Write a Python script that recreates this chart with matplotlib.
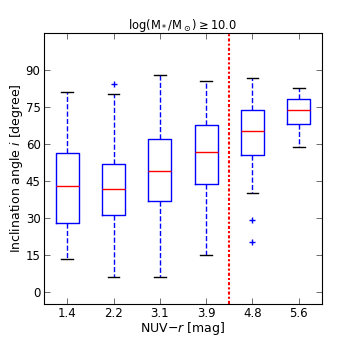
import matplotlib
matplotlib.use("Agg")
import matplotlib.pyplot as plt

categories = ["1.4", "2.2", "3.1", "3.9", "4.8", "5.6"]
whislo = [13.1, 6.0, 6.0, 14.7, 39.9, 58.8]
q1 = [27.8, 31.3, 36.7, 43.7, 55.6, 67.9]
med = [43.0, 41.5, 49.1, 56.9, 65.2, 73.9]
q3 = [56.2, 51.7, 62.0, 67.6, 73.6, 78.2]
whishi = [81.2, 80.3, 87.8, 85.6, 86.8, 82.7]
fliers = [[], [84.5], [], [], [29.0, 20.0], []]
yticks = [0, 15, 30, 45, 60, 75, 90]
divider = 4.5

plt.rcParams['mathtext.default'] = 'regular'

fig = plt.figure(figsize=(3.58, 3.38), dpi=100)
ax = fig.add_axes([44/358, 1 - 304/338, 278/358, 271/338])

stats = []
for i in range(len(categories)):
    stats.append(dict(med=med[i], q1=q1[i], q3=q3[i], whislo=whislo[i],
                      whishi=whishi[i], fliers=fliers[i], label=categories[i]))

ax.bxp(stats, positions=range(1, len(categories) + 1), widths=0.5,
       boxprops=dict(color='blue', linewidth=1.0),
       whiskerprops=dict(color='blue', linestyle='--', linewidth=1.0),
       capprops=dict(color='black', linewidth=1.0),
       medianprops=dict(color='red', linewidth=1.0),
       flierprops=dict(marker='+', markeredgecolor='blue', markersize=5,
                       linestyle='none'))

ax.axvline(divider, color='red', linestyle=(0, (1.5, 1, 1, 1)), linewidth=1.5)

ax.set_xlim(0.5, 6.5)
ax.set_ylim(-5, 105)
ax.set_yticks(yticks)
ax.tick_params(direction='in', top=True, right=True, length=4, width=0.6,
               color='#555555', labelsize=8.5)
ax.tick_params(axis='x', pad=2.5)
ax.tick_params(axis='y', pad=2.5)
for s in ax.spines.values():
    s.set_linewidth(0.8)
ax.set_title(r'log(M$_*$/M$_\odot$)$\geq$10.0', fontsize=8.3, pad=3)
ax.set_ylabel(r'Inclination angle $\mathit{i}$ [degree]', fontsize=9)
ax.set_xlabel(r'NUV$-\mathit{r}$ [mag]', fontsize=9)
ax.xaxis.set_label_coords(0.5, -0.058)
ax.yaxis.set_label_coords(-0.07, 0.5)

fig.savefig("out.png", dpi=100)
